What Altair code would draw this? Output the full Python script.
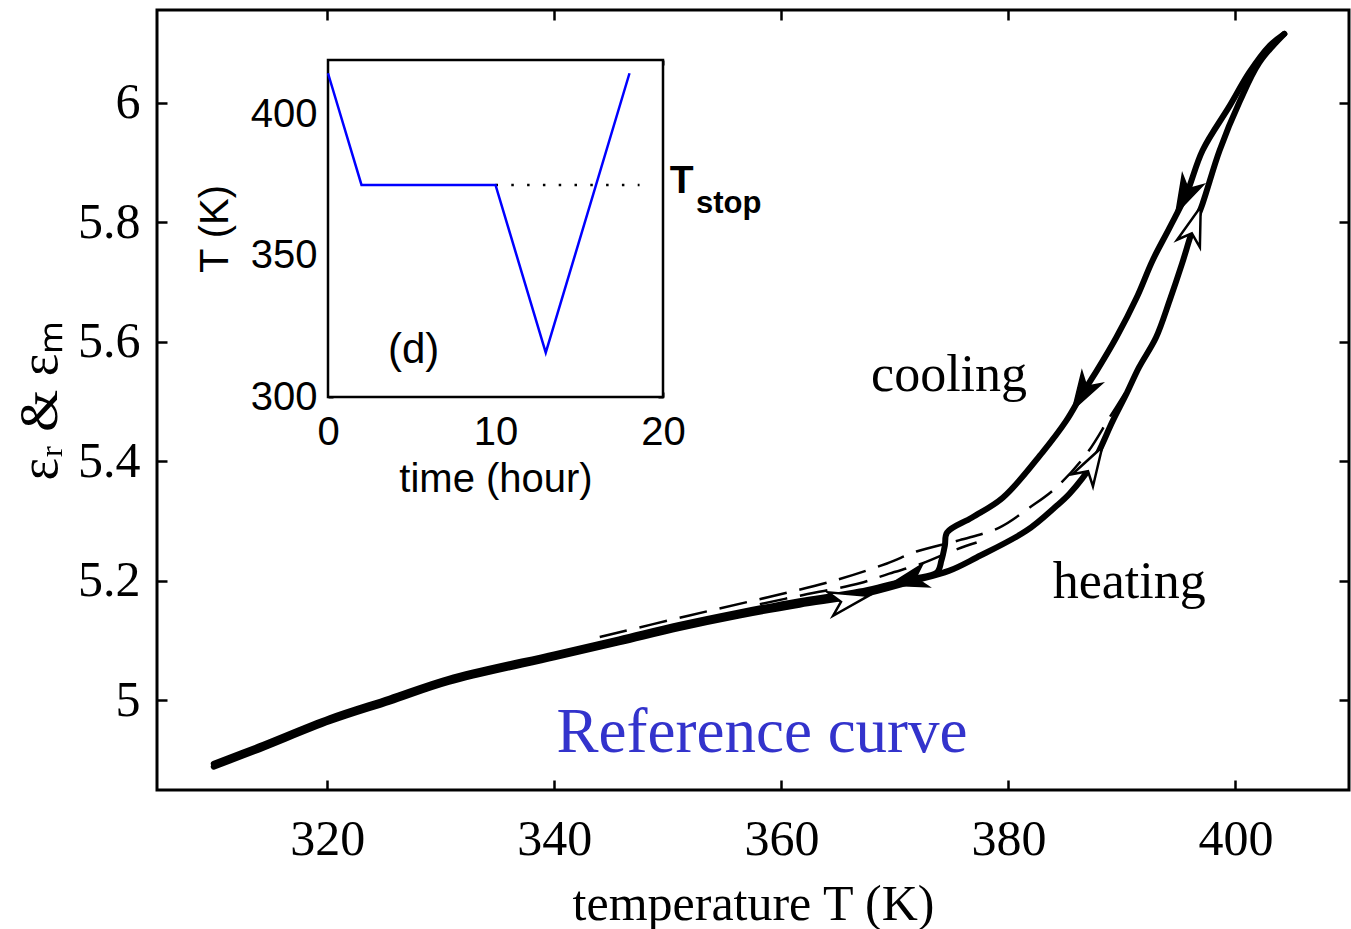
import altair as alt
import pandas as pd

# ---------------- main panel data ----------------
cool_T = [404.3, 403.0, 401.2, 399.5, 397.1, 395.7, 394.2, 392.7, 391.3, 389.5, 387.8, 386.5,
          385.1, 383.0, 379.5, 376.8, 374.6, 374.4, 374.1, 373.7, 371.5, 366.9, 361.6, 356.3,
          351.0, 345.7, 340.0, 330.7, 325.5, 320.2, 314.0, 310.0]
cool_eps = [6.115, 6.095, 6.050, 5.995, 5.920, 5.848, 5.791, 5.736, 5.674, 5.607, 5.552, 5.513,
            5.468, 5.415, 5.339, 5.306, 5.281, 5.259, 5.234, 5.214, 5.203, 5.182, 5.166, 5.147,
            5.126, 5.102, 5.077, 5.036, 5.003, 4.970, 4.923, 4.894]

heat_T = [310.0, 314.0, 320.2, 325.5, 330.7, 340.0, 345.7, 351.0, 356.3, 361.6, 366.9, 371.5,
          374.8, 377.2, 381.6, 384.1, 385.4, 387.4, 389.2, 390.4, 391.5, 393.0, 394.2, 395.3,
          396.2, 397.1, 398.6, 400.4, 402.1, 404.3]
heat_eps = [4.889, 4.918, 4.965, 4.998, 5.031, 5.072, 5.097, 5.121, 5.142, 5.160, 5.176, 5.199,
            5.217, 5.239, 5.284, 5.323, 5.346, 5.396, 5.468, 5.513, 5.557, 5.607, 5.669, 5.731,
            5.786, 5.831, 5.920, 6.003, 6.067, 6.115]

dashA_T = [344.0, 351.9, 358.9, 364.8, 369.3, 371.9, 375.7, 379.2, 381.9, 384.2, 386.9, 388.9, 390.4]
dashA_eps = [5.106, 5.142, 5.173, 5.201, 5.229, 5.249, 5.268, 5.289, 5.323, 5.356, 5.413, 5.473, 5.518]

dashB_T = [358.1, 361.6, 366.9, 369.5, 372.4, 375.2, 377.2]
dashB_eps = [5.161, 5.175, 5.196, 5.212, 5.229, 5.251, 5.264]

arrow_cool_T = [395.5, 386.5, 371.1]
arrow_cool_eps = [5.843, 5.513, 5.201]
arrow_cool_angle = [206.6, 211.0, 255.0]

arrow_heat_T = [396.4, 387.4, 366.0]
arrow_heat_eps = [5.795, 5.396, 5.168]
arrow_heat_angle = [18.4, 30.5, 77.8]

x_ticks = [320, 340, 360, 380, 400]
y_ticks = [5.0, 5.2, 5.4, 5.6, 5.8, 6.0]

# ---------------- inset data ----------------
inset_time = [0, 2, 10, 13, 18]
inset_temp = [414.8, 375.2, 375.2, 315.7, 414.8]
tstop_time = [10, 18.6]
tstop_temp = [375.2, 375.2]
inset_x_ticks = [0, 10, 20]
inset_y_ticks = [300, 350, 400]

SERIF = "Liberation Serif"
SANS = "Liberation Sans"

W, H = 1192, 780

# ---------------- tables ----------------
cool_df = pd.DataFrame({"T": cool_T, "eps": cool_eps, "o": range(len(cool_T))})
heat_df = pd.DataFrame({"T": heat_T, "eps": heat_eps, "o": range(len(heat_T))})
dashA_df = pd.DataFrame({"T": dashA_T, "eps": dashA_eps, "o": range(len(dashA_T))})
dashB_df = pd.DataFrame({"T": dashB_T, "eps": dashB_eps, "o": range(len(dashB_T))})
acool_df = pd.DataFrame({"T": arrow_cool_T, "eps": arrow_cool_eps, "ang": arrow_cool_angle})
aheat_df = pd.DataFrame({"T": arrow_heat_T, "eps": arrow_heat_eps, "ang": arrow_heat_angle})

xs = alt.Scale(domain=[305, 410], nice=False, zero=False)
ys = alt.Scale(domain=[4.85, 6.155], nice=False, zero=False)

ax_bottom = alt.Axis(values=x_ticks, orient="bottom", offset=-10, tickSize=10, tickWidth=2.5,
                     domain=False, grid=False, labelFont=SERIF, labelFontSize=50,
                     labelPadding=24, labelFlush=False, title="temperature T (K)",
                     titleFont=SERIF, titleFontSize=50, titleFontWeight="normal",
                     titlePadding=15)
ax_left = alt.Axis(values=y_ticks, orient="left", offset=-10, tickSize=10, tickWidth=2.5,
                   domain=False, grid=False, labelFont=SERIF, labelFontSize=50,
                   labelPadding=17, format="~g", title="ε\u1d63 & ε\u2098",
                   titleFont=SERIF, titleFontSize=54, titleFontWeight="normal",
                   titlePadding=10)
ax_top = alt.Axis(values=x_ticks, orient="top", offset=-10, tickSize=10, tickWidth=2.5,
                  domain=False, grid=False, labels=False, title=None)
ax_right = alt.Axis(values=y_ticks, orient="right", offset=-10, tickSize=10, tickWidth=2.5,
                    domain=False, grid=False, labels=False, title=None)


def X():
    return alt.X("T:Q", scale=xs, axis=ax_bottom)


def Y():
    return alt.Y("eps:Q", scale=ys, axis=ax_left)


cool_line = alt.Chart(cool_df).mark_line(color="black", strokeWidth=6, strokeCap="round",
                                         strokeJoin="round", interpolate="catmull-rom").encode(
    x=X(), y=Y(), order="o:Q")
heat_line = alt.Chart(heat_df).mark_line(color="black", strokeWidth=6, strokeCap="round",
                                         strokeJoin="round", interpolate="catmull-rom").encode(
    x=X(), y=Y(), order="o:Q")
dashA = alt.Chart(dashA_df).mark_line(color="black", strokeWidth=2.5, strokeDash=[28, 13],
                                      interpolate="catmull-rom").encode(x=X(), y=Y(), order="o:Q")
dashB = alt.Chart(dashB_df).mark_line(color="black", strokeWidth=2.5, strokeDash=[28, 13],
                                      interpolate="catmull-rom").encode(x=X(), y=Y(), order="o:Q")

ARROW = "M0,-1L0.62,1L0,0.45L-0.62,1Z"
acool = alt.Chart(acool_df).mark_point(shape=ARROW, size=1500, filled=True, fill="black",
                                       stroke="black", strokeWidth=1.5, opacity=1).encode(
    x=X(), y=Y(), angle=alt.Angle("ang:Q", scale=None))
aheat = alt.Chart(aheat_df).mark_point(shape=ARROW, size=1500, filled=True, fill="white",
                                       stroke="black", strokeWidth=2.5, opacity=1).encode(
    x=X(), y=Y(), angle=alt.Angle("ang:Q", scale=None))


def main_text(label, T, eps, size, color="black"):
    df = pd.DataFrame({"T": [T], "eps": [eps], "label": [label]})
    return alt.Chart(df).mark_text(font=SERIF, fontSize=size, align="left",
                                   baseline="alphabetic", color=color).encode(
        x=X(), y=Y(), text="label:N")


t_cool = main_text("cooling", 367.9, 5.518, 52)
t_heat = main_text("heating", 383.9, 5.171, 52)
t_ref = main_text("Reference curve", 340.2, 4.913, 63, "#3333cc")

main_core = alt.layer(dashA, dashB, heat_line, cool_line, acool, aheat, t_cool, t_heat, t_ref)

frame_df = pd.DataFrame({"T": [350.0], "eps": [5.5]})
main_frame = alt.Chart(frame_df).mark_point(opacity=0).encode(
    x=alt.X("T:Q", scale=xs, axis=ax_top), y=alt.Y("eps:Q", scale=ys, axis=ax_right))

main_group = alt.layer(main_core, main_frame).resolve_axis(x="independent", y="independent")

# ---------------- inset ----------------
IX0, IX1 = 171, 506      # inset plot box inside the main plot area (px)
IY0, IY1 = 50, 387

ixs = alt.Scale(domain=[0, 20], range=[IX0, IX1], nice=False, zero=False)
iys = alt.Scale(domain=[300, 419.5], range=[IY1, IY0], nice=False, zero=False)

iax_bottom = alt.Axis(values=inset_x_ticks, orient="bottom", offset=-(H - IY1 + 5), tickSize=5,
                      tickWidth=2, domain=False, grid=False, labelFont=SANS, labelFontSize=40,
                      labelPadding=15, labelFlush=False, title="time (hour)", titleFont=SANS,
                      titleFontSize=40, titleFontWeight="normal", titlePadding=7)
iax_left = alt.Axis(values=inset_y_ticks, orient="left", offset=-(IX0 + 5), tickSize=5,
                    tickWidth=2, domain=False, grid=False, labelFont=SANS, labelFontSize=40,
                    labelPadding=11, title="T (K)", titleFont=SANS, titleFontSize=40,
                    titleFontWeight="normal", titlePadding=15)
iax_top = alt.Axis(values=inset_x_ticks, orient="top", offset=-(IY0 + 5), tickSize=5,
                   tickWidth=2, domain=False, grid=False, labels=False, title=None)
iax_right = alt.Axis(values=inset_y_ticks, orient="right", offset=-(W - IX1 + 5), tickSize=5,
                     tickWidth=2, domain=False, grid=False, labels=False, title=None)


def IX():
    return alt.X("t:Q", scale=ixs, axis=iax_bottom)


def IY():
    return alt.Y("temp:Q", scale=iys, axis=iax_left)


box_df = pd.DataFrame({"t": [0], "t2": [20], "temp": [300], "temp2": [419.5]})
inset_box = alt.Chart(box_df).mark_rect(fill="white", stroke="black", strokeWidth=2.5).encode(
    x=IX(), x2="t2:Q", y=IY(), y2="temp2:Q")

prof_df = pd.DataFrame({"t": inset_time, "temp": inset_temp, "o": range(len(inset_time))})
inset_line = alt.Chart(prof_df).mark_line(color="#0000ff", strokeWidth=2.5).encode(
    x=IX(), y=IY(), order="o:Q")

stop_df = pd.DataFrame({"t": tstop_time, "temp": tstop_temp})
inset_dots = alt.Chart(stop_df).mark_line(color="black", strokeWidth=2.5,
                                          strokeDash=[2.5, 13.3]).encode(x=IX(), y=IY())


def inset_text(label, t, temp, size, weight="normal"):
    df = pd.DataFrame({"t": [t], "temp": [temp], "label": [label]})
    return alt.Chart(df).mark_text(font=SANS, fontSize=size, fontWeight=weight, align="left",
                                   baseline="alphabetic", color="black").encode(
        x=IX(), y=IY(), text="label:N")


t_d = inset_text("(d)", 3.58, 312.1, 42)
t_T = inset_text("T", 20.4, 372.2, 39, "bold")
t_stop = inset_text("stop", 21.97, 365.1, 31, "bold")

inset_core = alt.layer(inset_box, inset_dots, inset_line, t_d, t_T, t_stop)

iframe_df = pd.DataFrame({"t": [10.0], "temp": [350.0]})
inset_frame = alt.Chart(iframe_df).mark_point(opacity=0).encode(
    x=alt.X("t:Q", scale=ixs, axis=iax_top), y=alt.Y("temp:Q", scale=iys, axis=iax_right))

inset_group = alt.layer(inset_core, inset_frame).resolve_axis(x="independent", y="independent")

chart = alt.layer(main_group, inset_group).resolve_scale(
    x="independent", y="independent"
).properties(
    width=W, height=H,
    autosize=alt.AutoSizeParams(type="none"),
    padding={"left": 157, "top": 10, "right": 2, "bottom": 139},
    background="white",
).configure_view(
    stroke="black", strokeWidth=3
).configure_axis(
    labelColor="black", titleColor="black", tickColor="black"
)

chart.save("out.html", embed_options={"renderer": "svg", "actions": False})
